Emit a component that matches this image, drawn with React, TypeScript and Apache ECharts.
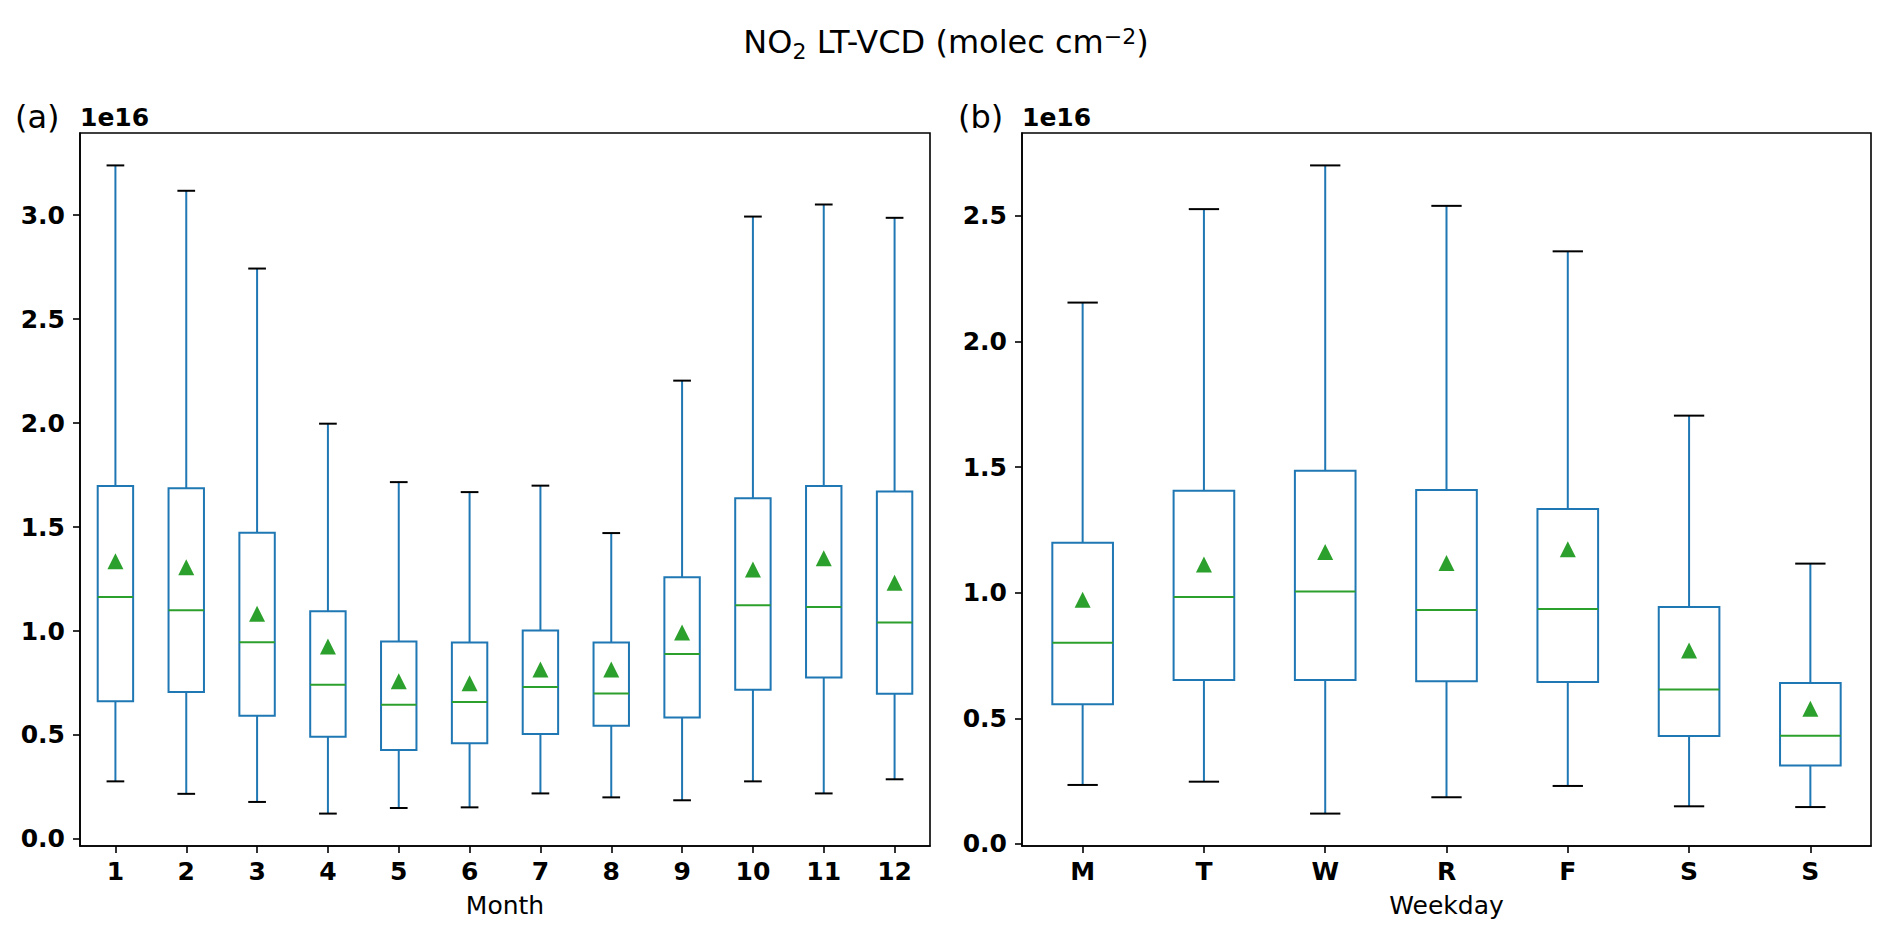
import React, { useEffect, useRef } from "react";
import * as echarts from "echarts";

// ---- Data (values in units of 1e16 molec cm^-2) ----
const MONTHS = ["1", "2", "3", "4", "5", "6", "7", "8", "9", "10", "11", "12"];
const MONTH_LOW = [0.277, 0.217, 0.178, 0.122, 0.149, 0.152, 0.219, 0.200, 0.186, 0.277, 0.219, 0.287];
const MONTH_Q1 = [0.662, 0.707, 0.592, 0.491, 0.428, 0.460, 0.505, 0.544, 0.584, 0.718, 0.776, 0.698];
const MONTH_MEDIAN = [1.163, 1.100, 0.946, 0.741, 0.645, 0.659, 0.731, 0.699, 0.890, 1.124, 1.115, 1.041];
const MONTH_Q3 = [1.697, 1.686, 1.473, 1.095, 0.949, 0.945, 1.002, 0.945, 1.259, 1.639, 1.697, 1.671];
const MONTH_HIGH = [3.239, 3.117, 2.743, 1.997, 1.716, 1.668, 1.699, 1.471, 2.204, 2.993, 3.051, 2.987];
const MONTH_MEAN = [1.336, 1.307, 1.083, 0.925, 0.758, 0.749, 0.815, 0.815, 0.993, 1.296, 1.350, 1.232];

const WEEKDAYS = ["M", "T", "W", "R", "F", "S", "S"];
const WEEK_LOW = [0.235, 0.248, 0.121, 0.186, 0.231, 0.150, 0.147];
const WEEK_Q1 = [0.556, 0.653, 0.653, 0.648, 0.645, 0.430, 0.312];
const WEEK_MEDIAN = [0.801, 0.983, 1.005, 0.931, 0.935, 0.615, 0.431];
const WEEK_Q3 = [1.199, 1.406, 1.486, 1.409, 1.333, 0.943, 0.641];
const WEEK_HIGH = [2.155, 2.527, 2.701, 2.540, 2.359, 1.705, 1.116];
const WEEK_MEAN = [0.972, 1.112, 1.162, 1.118, 1.173, 0.770, 0.538];

const Y_TICKS_A = [0, 0.5, 1.0, 1.5, 2.0, 2.5, 3.0];
const Y_TICKS_B = [0, 0.5, 1.0, 1.5, 2.0, 2.5];

const TITLE_MAIN = "NO";
const TITLE_SUB = "2";
const TITLE_MID = " LT-VCD (molec cm";
const TITLE_SUP = "−2";
const TITLE_END = ")";

const FONT = "DejaVu Sans";
const BLUE = "#1f77b4";
const GREEN = "#2ca02c";
const BLACK = "#000000";

function paddedExtent(lows: number[], highs: number[]) {
  const lo = Math.min(...lows);
  const hi = Math.max(...highs);
  const r = hi - lo;
  return [lo - 0.05 * r, hi + 0.05 * r];
}

function buildBoxData(low: number[], q1: number[], med: number[], q3: number[], high: number[]) {
  return low.map((_, i) => [i, low[i], q1[i], med[i], q3[i], high[i]]);
}

function renderBox(params: any, api: any) {
  const i = api.value(0);
  const pLow = api.coord([i, api.value(1)]);
  const pQ1 = api.coord([i, api.value(2)]);
  const pMed = api.coord([i, api.value(3)]);
  const pQ3 = api.coord([i, api.value(4)]);
  const pHigh = api.coord([i, api.value(5)]);
  const band = api.size([1, 0])[0];
  const half = band * 0.25;
  const capHalf = band * 0.125;
  const x = pLow[0];
  const lw = 2;
  return {
    type: "group",
    children: [
      { type: "line", shape: { x1: x, y1: pQ3[1], x2: x, y2: pHigh[1] }, style: { stroke: BLUE, lineWidth: lw } },
      { type: "line", shape: { x1: x, y1: pQ1[1], x2: x, y2: pLow[1] }, style: { stroke: BLUE, lineWidth: lw } },
      { type: "line", shape: { x1: x - capHalf, y1: pHigh[1], x2: x + capHalf, y2: pHigh[1] }, style: { stroke: BLACK, lineWidth: lw } },
      { type: "line", shape: { x1: x - capHalf, y1: pLow[1], x2: x + capHalf, y2: pLow[1] }, style: { stroke: BLACK, lineWidth: lw } },
      {
        type: "rect",
        shape: { x: x - half, y: pQ3[1], width: 2 * half, height: pQ1[1] - pQ3[1] },
        style: { fill: "none", stroke: BLUE, lineWidth: lw },
      },
      { type: "line", shape: { x1: x - half, y1: pMed[1], x2: x + half, y2: pMed[1] }, style: { stroke: GREEN, lineWidth: lw } },
    ],
  };
}

export default function App() {
  const ref = useRef<HTMLDivElement>(null);

  useEffect(() => {
    document.body.style.margin = "0";
    if (!ref.current) return;
    const chart = echarts.init(ref.current, undefined, { renderer: "svg" });

    const extA = paddedExtent(MONTH_LOW, MONTH_HIGH);
    const extB = paddedExtent(WEEK_LOW, WEEK_HIGH);

    const gridCommon = {
      top: 133,
      height: 713,
      show: true,
      borderColor: BLACK,
      borderWidth: 1.6,
      backgroundColor: "transparent",
      containLabel: false,
    };

    const xAxisCommon = (data: string[], idx: number, name: string) => ({
      type: "category",
      gridIndex: idx,
      data,
      boundaryGap: true,
      axisLine: { show: true, onZero: false, lineStyle: { color: BLACK, width: 1.6 } },
      axisTick: { show: true, alignWithLabel: true, length: 7, lineStyle: { color: BLACK, width: 1.6 } },
      axisLabel: { fontFamily: FONT, fontSize: 25, fontWeight: "bold", color: BLACK, margin: 13, interval: 0 },
      splitLine: { show: false },
      name,
      nameLocation: "middle",
      nameGap: 47,
      nameTextStyle: { fontFamily: FONT, fontSize: 25, color: BLACK, fontWeight: "normal" },
    });

    const yAxisCommon = (ext: number[], ticks: number[], idx: number) => ({
      type: "value",
      gridIndex: idx,
      min: ext[0],
      max: ext[1],
      axisLine: { show: true, onZero: false, lineStyle: { color: BLACK, width: 1.6 } },
      axisTick: { show: true, length: 7, customValues: ticks, lineStyle: { color: BLACK, width: 1.6 } },
      axisLabel: {
        customValues: ticks,
        formatter: (v: number) => v.toFixed(1),
        fontFamily: FONT,
        fontSize: 25,
        fontWeight: "bold",
        color: BLACK,
        margin: 15,
      },
      splitLine: { show: false },
    });

    const panelTexts = [
      { text: "(a)", x: 15, bold: false, size: 32 },
      { text: "1e16", x: 80, bold: true, size: 25 },
      { text: "(b)", x: 958, bold: false, size: 32 },
      { text: "1e16", x: 1022, bold: true, size: 25 },
    ];

    chart.setOption({
      animation: false,
      backgroundColor: "#ffffff",
      title: {
        text: `{n|${TITLE_MAIN}}{s|${TITLE_SUB}}{n|${TITLE_MID}}{p|${TITLE_SUP}}{n|${TITLE_END}}`,
        left: "center",
        top: 17,
        textStyle: {
          fontWeight: "normal",
          fontFamily: FONT,
          rich: {
            n: { fontFamily: FONT, fontSize: 32, fontWeight: "normal", color: BLACK, lineHeight: 40, verticalAlign: "middle" },
            s: { fontFamily: FONT, fontSize: 22, fontWeight: "normal", color: BLACK, lineHeight: 20, verticalAlign: "bottom" },
            p: { fontFamily: FONT, fontSize: 22, fontWeight: "normal", color: BLACK, lineHeight: 22, verticalAlign: "top", padding: [3, 0, 0, 0] },
          },
        },
      },
      grid: [
        { ...gridCommon, left: 80, width: 850 },
        { ...gridCommon, left: 1022, width: 849 },
      ],
      xAxis: [xAxisCommon(MONTHS, 0, "Month"), xAxisCommon(WEEKDAYS, 1, "Weekday")],
      yAxis: [yAxisCommon(extA, Y_TICKS_A, 0), yAxisCommon(extB, Y_TICKS_B, 1)],
      graphic: panelTexts.map((t) => ({
        type: "text",
        x: t.x,
        y: 117,
        style: {
          text: t.text,
          fontFamily: FONT,
          fontSize: t.size,
          fontWeight: t.bold ? "bold" : "normal",
          fill: BLACK,
          textAlign: "left",
          textVerticalAlign: "middle",
        },
      })),
      series: [
        {
          type: "custom",
          xAxisIndex: 0,
          yAxisIndex: 0,
          renderItem: renderBox,
          encode: { x: 0, y: [1, 2, 3, 4, 5] },
          data: buildBoxData(MONTH_LOW, MONTH_Q1, MONTH_MEDIAN, MONTH_Q3, MONTH_HIGH),
          z: 2,
        },
        {
          type: "custom",
          xAxisIndex: 1,
          yAxisIndex: 1,
          renderItem: renderBox,
          encode: { x: 0, y: [1, 2, 3, 4, 5] },
          data: buildBoxData(WEEK_LOW, WEEK_Q1, WEEK_MEDIAN, WEEK_Q3, WEEK_HIGH),
          z: 2,
        },
        {
          type: "scatter",
          xAxisIndex: 0,
          yAxisIndex: 0,
          symbol: "triangle",
          symbolSize: 16,
          itemStyle: { color: GREEN, opacity: 1 },
          data: MONTH_MEAN.map((v, i) => [i, v]),
          z: 3,
        },
        {
          type: "scatter",
          xAxisIndex: 1,
          yAxisIndex: 1,
          symbol: "triangle",
          symbolSize: 16,
          itemStyle: { color: GREEN, opacity: 1 },
          data: WEEK_MEAN.map((v, i) => [i, v]),
          z: 3,
        },
      ],
    });

    return () => chart.dispose();
  }, []);

  return <div ref={ref} style={{ width: 1892, height: 940 }} />;
}
